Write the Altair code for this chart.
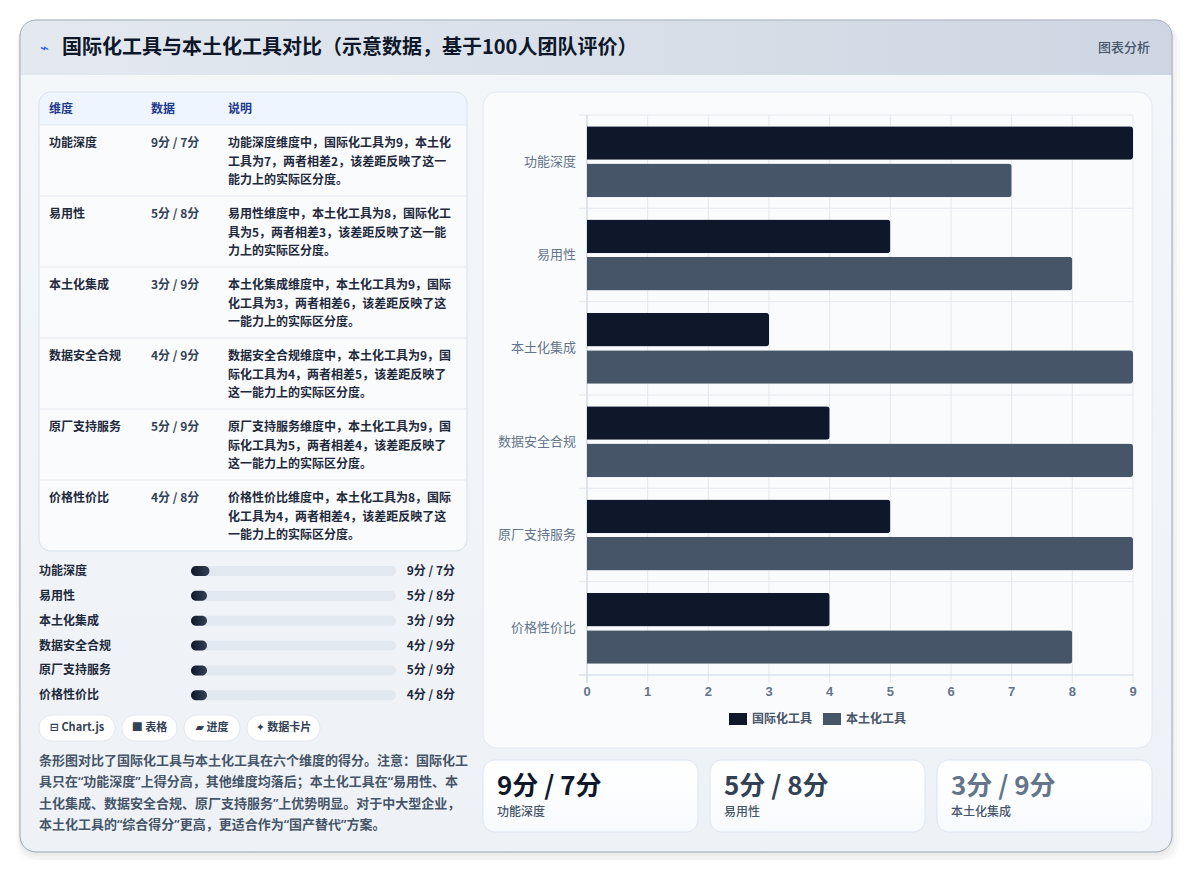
import altair as alt
import pandas as pd

# ---------------- data ----------------
dims = ["功能深度", "易用性", "本土化集成", "数据安全合规", "原厂支持服务", "价格性价比"]
intl = [9, 5, 3, 4, 5, 4]
local = [7, 8, 9, 9, 9, 8]
series = ["国际化工具", "本土化工具"]
series_colors = ["#0f172a", "#475569"]
ticks = [0, 1, 2, 3, 4, 5, 6, 7, 8, 9]
desc_lines = [
    ["功能深度维度中，国际化工具为9，本土化", "工具为7，两者相差2，该差距反映了这一", "能力上的实际区分度。"],
    ["易用性维度中，本土化工具为8，国际化工", "具为5，两者相差3，该差距反映了这一能", "力上的实际区分度。"],
    ["本土化集成维度中，本土化工具为9，国际", "化工具为3，两者相差6，该差距反映了这", "一能力上的实际区分度。"],
    ["数据安全合规维度中，本土化工具为9，国", "际化工具为4，两者相差5，该差距反映了", "这一能力上的实际区分度。"],
    ["原厂支持服务维度中，本土化工具为9，国", "际化工具为5，两者相差4，该差距反映了", "这一能力上的实际区分度。"],
    ["价格性价比维度中，本土化工具为8，国际", "化工具为4，两者相差4，该差距反映了这", "一能力上的实际区分度。"],
]
table_head = ["维度", "数据", "说明"]
buttons = ["⊟ Chart.js", "■ 表格", "▰ 进度", "✦ 数据卡片"]
paragraph = [
    "条形图对比了国际化工具与本土化工具在六个维度的得分。注意：国际化工",
    "具只在“功能深度”上得分高，其他维度均落后；本土化工具在“易用性、本",
    "土化集成、数据安全合规、原厂支持服务”上优势明显。对于中大型企业，",
    "本土化工具的“综合得分”更高，更适合作为“国产替代”方案。",
]
title = "国际化工具与本土化工具对比（示意数据，基于100人团队评价）"
badge = "图表分析"
card_colors = ["#0f172a", "#334155", "#64748b"]

# ---------------- frames ----------------
score_labels = [f"{a}分 / {b}分" for a, b in zip(intl, local)]
rows_df = pd.DataFrame({"dim": dims, "idx": list(range(len(dims))),
                        "intl": intl, "local": local, "label": score_labels})
long_df = pd.DataFrame(
    [{"dim": d, "series": series[0], "value": a} for d, a in zip(dims, intl)]
    + [{"dim": d, "series": series[1], "value": b} for d, b in zip(dims, local)]
)
desc_df = pd.DataFrame([{"idx": i, "line": j, "text": t}
                        for i, lines in enumerate(desc_lines) for j, t in enumerate(lines)])
tick_df = pd.DataFrame({"t": ticks})
bound_df = pd.DataFrame({"b": list(range(len(dims)))})
para_df = pd.DataFrame({"idx": list(range(len(paragraph))), "text": paragraph})
cards_df = rows_df.head(3)
one = pd.DataFrame({"k": [0]})

FONT = "Noto Sans CJK SC, DejaVu Sans"
PFONT = "Noto Sans, Noto Sans CJK SC"
O = 8  # page margin offset


def V(v):
    return alt.value(v - O)


def rect(x1, x2, y1, y2, **kw):
    return alt.Chart(one).mark_rect(**kw).encode(x=V(x1), x2=V(x2), y=V(y1), y2=V(y2))


def txt(s, x, y, **kw):
    kw.setdefault("font", FONT)
    kw.setdefault("baseline", "middle")
    kw.setdefault("align", "left")
    return alt.Chart(one).mark_text(text=s, **kw).encode(x=V(x), y=V(y))


def grad(c1, c2, vertical=False):
    return {"gradient": "linear", "stops": [{"offset": 0, "color": c1}, {"offset": 1, "color": c2}],
            "x1": 0, "y1": 0, "x2": 0 if vertical else 1, "y2": 1 if vertical else 0}


layers = []

# ---- outer card, shadow, header ----
layers += [
    rect(16, 1180, 24, 864, fill="#000000", opacity=0.018, cornerRadius=22),
    rect(18, 1177, 22, 860, fill="#000000", opacity=0.025, cornerRadius=19),
    rect(19, 1174, 21, 856, fill="#000000", opacity=0.03, cornerRadius=17),
    rect(20, 1172, 20, 852, fill=grad("#f4f7fa", "#eef2f6", vertical=True), cornerRadius=16),
    rect(20.5, 1171.5, 20.5, 75, fill=grad("#e4e9f0", "#cdd6e2"),
         cornerRadiusTopLeft=16, cornerRadiusTopRight=16),
    rect(20, 1172, 20, 852, fillOpacity=0, stroke="#9aa5b4", strokeWidth=1, cornerRadius=16),
    txt("⌁", 40, 48, fontSize=15, color="#2563eb", font="DejaVu Sans"),
    txt(title, 62, 48, fontSize=20, fontWeight="bold", color="#0f172a"),
    txt(badge, 1150, 48, fontSize=13, fontWeight=500, color="#475569", align="right"),
]

# ---- table ----
layers += [
    rect(39, 467, 92, 551, fill="#fafbfd", cornerRadius=12),
    rect(39.5, 466.5, 92.5, 125, fill="#eef5fe", cornerRadiusTopLeft=12, cornerRadiusTopRight=12),
]
sep_scale = alt.Scale(domain=[0, 6], range=[125 - O, 551 - O])
layers.append(
    alt.Chart(rows_df).mark_rule(color="#e2e8f0", strokeWidth=1).encode(
        x=V(40), x2=V(466), y=alt.Y("idx:Q", scale=sep_scale, axis=None))
)
layers.append(rect(39, 467, 92, 551, fillOpacity=0, stroke="#d6dfea", strokeWidth=1, cornerRadius=12))
for h, hx in zip(table_head, [49, 151, 228]):
    layers.append(txt(h, hx, 109, fontSize=12, fontWeight="bold", color="#1e3a8a"))

row_scale = alt.Scale(domain=[0, 6], range=[143 - O, 143 - O + 426])
layers.append(
    alt.Chart(rows_df).mark_text(font=FONT, fontSize=12, fontWeight="bold", color="#1e293b",
                                 align="left", baseline="middle").encode(
        x=V(49), y=alt.Y("idx:Q", scale=row_scale, axis=None), text="dim:N")
)
layers.append(
    alt.Chart(rows_df).mark_text(font=FONT, fontSize=12, fontWeight="bold", color="#334155",
                                 align="left", baseline="middle").encode(
        x=V(151), y=alt.Y("idx:Q", scale=row_scale, axis=None), text="label:N")
)
layers.append(
    alt.Chart(desc_df).transform_calculate(pos="datum.idx + datum.line * 18.5 / 71")
    .mark_text(font=FONT, fontSize=12, fontWeight="bold", color="#1e293b",
               align="left", baseline="middle").encode(
        x=V(228), y=alt.Y("pos:Q", scale=row_scale, axis=None), text="text:N")
)

# ---- progress list ----
py = alt.Scale(domain=[0, 5], range=[571 - O, 695.3 - O])
py_bar = alt.Scale(domain=[0, 5], range=[571 - O, 695.3 - O], padding=0)
px = alt.Scale(domain=[0, 100], range=[191 - O, 396 - O], padding=0)
layers.append(
    alt.Chart(rows_df).transform_calculate(zero="0", full="100")
    .mark_bar(height=10, cornerRadius=5, color="#e2e8f0", orient="horizontal").encode(
        x=alt.X("zero:Q", scale=px, axis=None), x2="full:Q",
        y=alt.Y("idx:Q", scale=py_bar, axis=None))
)
layers.append(
    alt.Chart(rows_df).transform_calculate(zero="0", w="max(datum.intl, 7.8)")
    .mark_bar(height=10, cornerRadius=5, fill=grad("#0f172a", "#334155"), orient="horizontal").encode(
        x=alt.X("zero:Q", scale=px, axis=None), x2="w:Q",
        y=alt.Y("idx:Q", scale=py_bar, axis=None))
)
layers.append(
    alt.Chart(rows_df).mark_text(font=FONT, fontSize=12, fontWeight="bold", color="#1e293b",
                                 align="left", baseline="middle").encode(
        x=V(39), y=alt.Y("idx:Q", scale=py, axis=None), text="dim:N")
)
layers.append(
    alt.Chart(rows_df).mark_text(font=FONT, fontSize=12, fontWeight="bold", color="#1e293b",
                                 align="right", baseline="middle").encode(
        x=V(455), y=alt.Y("idx:Q", scale=py, axis=None), text="label:N")
)

# ---- buttons ----
for b, (bx1, bx2) in zip(buttons, [(39, 115), (122, 177), (184, 240), (247, 320)]):
    layers.append(rect(bx1, bx2, 715, 741, fill="#ffffff", stroke="#e2e8f0", strokeWidth=1, cornerRadius=13))
    layers.append(txt(b, (bx1 + bx2) / 2, 728, fontSize=11, fontWeight="bold", color="#334155", align="center"))

# ---- paragraph ----
layers.append(
    alt.Chart(para_df).mark_text(font=PFONT, fontSize=13, fontWeight=600, color="#475569",
                                 align="left", baseline="middle").encode(
        x=V(39), y=alt.Y("idx:Q", scale=alt.Scale(domain=[0, 3], range=[761 - O, 825 - O]), axis=None),
        text="text:N")
)

# ---- bar chart card ----
layers.append(rect(483, 1152, 92, 748, fill="#f9fbfd", stroke="#e2e8f0", strokeWidth=1, cornerRadius=14))

xs = alt.Scale(domain=[0, 9], range=[587 - O, 1133 - O])
ys = alt.Scale(domain=dims, range=[115 - O, 675 - O], paddingInner=0.2, paddingOuter=0.1)
bs = alt.Scale(domain=[0, 6], range=[115 - O, 675 - O])

layers.append(
    alt.Chart(tick_df).mark_rule(color="#e3e8ef", strokeWidth=1).encode(
        x=alt.X("t:Q", scale=xs, axis=None), y=V(115), y2=V(683))
)
layers.append(
    alt.Chart(bound_df).mark_rule(color="#e3e8ef", strokeWidth=1).encode(
        y=alt.Y("b:Q", scale=bs, axis=None), x=V(579), x2=V(1133))
)
layers.append(alt.Chart(one).mark_rule(color="#cbd5e1", strokeWidth=1).encode(
    x=V(579), x2=V(1133), y=V(675)))
layers.append(alt.Chart(one).mark_rule(color="#cbd5e1", strokeWidth=1).encode(
    x=V(587), y=V(115), y2=V(683)))

layers.append(
    alt.Chart(long_df).mark_bar(cornerRadiusEnd=3).encode(
        x=alt.X("value:Q", scale=xs, axis=None),
        y=alt.Y("dim:N", scale=ys, sort=dims, axis=None),
        yOffset=alt.YOffset("series:N", sort=series,
                            scale=alt.Scale(domain=series, paddingInner=0.1, paddingOuter=0.05)),
        color=alt.Color("series:N", scale=alt.Scale(domain=series, range=series_colors), legend=None),
    )
)
layers.append(
    alt.Chart(rows_df).mark_text(font=FONT, fontSize=13, color="#64748b", align="right",
                                 baseline="middle").encode(
        x=V(576), y=alt.Y("dim:N", scale=ys, sort=dims, axis=None), text="dim:N")
)
layers.append(
    alt.Chart(tick_df).mark_text(font="Liberation Sans, " + FONT, fontSize=13, fontWeight="bold",
                                 color="#64748b", align="center", baseline="middle").encode(
        x=alt.X("t:Q", scale=xs, axis=None), y=V(692), text="t:Q")
)
# legend
for name, col, sx, tx in zip(series, series_colors, [729, 823], [752, 846]):
    layers.append(rect(sx, sx + 18, 713, 725, fill=col))
    layers.append(txt(name, tx, 719, fontSize=12, fontWeight="bold", color="#475569"))

# ---- stat cards ----
for cx1 in [483, 710, 937]:
    layers.append(rect(cx1, cx1 + 215, 760, 832, fill=grad("#ffffff", "#f8fbff", vertical=True),
                       stroke="#dbe5f3", strokeWidth=1, cornerRadius=12))
cx = alt.Scale(domain=[0, 2], range=[497 - O, 951 - O])
layers.append(
    alt.Chart(cards_df).mark_text(font=FONT, fontSize=26, fontWeight="bold", align="left",
                                  baseline="middle").encode(
        x=alt.X("idx:Q", scale=cx, axis=None), y=V(787), text="label:N",
        color=alt.Color("dim:N", scale=alt.Scale(domain=dims[:3], range=card_colors), legend=None))
)
layers.append(
    alt.Chart(cards_df).mark_text(font=FONT, fontSize=12, fontWeight=500, color="#475569",
                                  align="left", baseline="middle").encode(
        x=alt.X("idx:Q", scale=cx, axis=None), y=V(812), text="dim:N")
)

chart = (
    alt.layer(*layers)
    .resolve_scale(x="independent", y="independent", color="independent")
    .properties(width=1174, height=852, padding=0,
                autosize=alt.AutoSizeParams(type="none"), background="#ffffff")
    .configure_view(strokeWidth=0)
)

chart.save("out.html", embed_options={"renderer": "svg", "actions": False})
